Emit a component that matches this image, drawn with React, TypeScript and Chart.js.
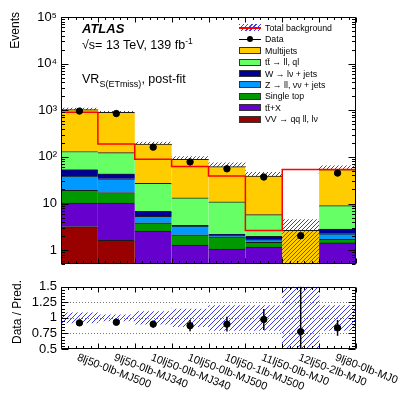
import React, { useEffect, useRef } from "react";
import { Chart, registerables } from "chart.js";

Chart.register(...registerables);

// ---------------- data ----------------
const categories = [
  "8lj50-0lb-MJ500",
  "9lj50-0lb-MJ340",
  "10lj50-0lb-MJ340",
  "10lj50-0lb-MJ500",
  "10lj50-1lb-MJ500",
  "11lj50-0lb-MJ0",
  "12lj50-2lb-MJ0",
  "9lj80-0lb-MJ0",
];

// stacked backgrounds, bottom -> top
const vvHadronic = [3.2, 1.63, null, null, null, null, null, null];
const ttbarX = [7.0, 8.6, 2.56, 1.28, 1.05, 1.16, null, 1.43];
const singleTop = [9.0, 7.0, 1.29, 0.86, 0.89, 0.32, null, 0.28];
const zJets = [19.6, 16.8, 1.45, 1.13, 0.14, 0.2, null, 0.54];
const wJets = [14.7, 9.4, 1.5, 0.13, 0.1, 0.3, null, 0.58];
const ttbarLep = [77, 80, 20.2, 9.9, 8.7, 3.8, null, 6.2];
const multijets = [905, 784, 161, 75.7, 51.1, 33, 2.65, 44.5];

const dataEvents = [960, 850, 162, 78, 55.5, 37, 2.04, 45];

const ratioValues = [0.92, 0.93, 0.9, 0.875, 0.9, 0.975, 0.78, 0.84];
const ratioErrors = [0.015, 0.02, 0.055, 0.09, 0.12, 0.17, 0.75, 0.125];
const uncertUp = [0.08, 0.05, 0.1, 0.14, 0.2, 0.2, 0.7, 0.2];
const uncertDown = [0.08, 0.05, 0.1, 0.14, 0.2, 0.2, 1.0, 0.2];

const mainTickValues = [1, 10, 100, 1000, 10000, 100000];
const mainTickLabels = ["1", "10", "10²", "10³", "10⁴", "10⁵"];
const ratioTickValues = [0.5, 0.75, 1, 1.25, 1.5];
const ratioTickLabels = ["0.5", "0.75", "1", "1.25", "1.5"];
const ratioGridValues = [0.75, 1, 1.25];

const seriesNames = [
  "VV → qq ll, lν",
  "tt̄+X",
  "Single top",
  "Z → ll, νν + jets",
  "W → lν + jets",
  "tt̄ → ll, ql",
  "Multijets",
];

// ---------------- styles ----------------
const seriesColors = ["#990000", "#6600cc", "#009900", "#0099ff", "#000099", "#66ff66", "#ffcc00"];
const FONT = '"Liberation Sans", Arial, Helvetica, sans-serif';
const HATCH = "#3a3aff";
const Y_MIN = 0.5;
const Y_MAX = 1e5;

// crisp 1px "/" hatch pattern
function makeHatch(line: string, size: number, bg?: string) {
  const c = document.createElement("canvas");
  c.width = size;
  c.height = size;
  const g = c.getContext("2d")!;
  if (bg) {
    g.fillStyle = bg;
    g.fillRect(0, 0, size, size);
  }
  g.fillStyle = line;
  for (let i = 0; i < size; i++) g.fillRect(i, size - 1 - i, 1, 1);
  return g.createPattern(c, "repeat")!;
}

function drawFrame(chart: any, yTicks: { v: number; major: boolean }[], nBins: number) {
  const { ctx, chartArea: a } = chart;
  const ys = chart.scales.y;
  const xe = chart.scales.xe;
  const L = Math.round(a.left) + 0.5;
  const R = Math.round(a.right) - 0.5;
  const T = Math.round(a.top) + 0.5;
  const B = Math.round(a.bottom) - 0.5;
  ctx.save();
  ctx.strokeStyle = "#000";
  ctx.lineWidth = 1;
  ctx.beginPath();
  ctx.rect(L, T, R - L, B - T);
  for (const t of yTicks) {
    const p = Math.round(ys.getPixelForValue(t.v)) + 0.5;
    const len = t.major ? 7 : 3.5;
    ctx.moveTo(L, p);
    ctx.lineTo(L + len, p);
    ctx.moveTo(R, p);
    ctx.lineTo(R - len, p);
  }
  for (let i = 0; i <= nBins * 5; i++) {
    const p = Math.round(xe.getPixelForValue(i / 5)) + 0.5;
    const len = i % 5 === 0 ? 5 : 2.5;
    ctx.moveTo(p, B);
    ctx.lineTo(p, B - len);
    ctx.moveTo(p, T);
    ctx.lineTo(p, T + len);
  }
  ctx.stroke();
  ctx.restore();
}

function logTicks(min: number, max: number) {
  const out: { v: number; major: boolean }[] = [];
  for (let e = Math.floor(Math.log10(min)); e <= Math.ceil(Math.log10(max)); e++) {
    for (let m = 1; m <= 9; m++) {
      const v = m * Math.pow(10, e);
      if (v >= min - 1e-12 && v <= max * (1 + 1e-9)) out.push({ v, major: m === 1 });
    }
  }
  return out;
}

function linTicks(min: number, max: number, minor: number, major: number) {
  const out: { v: number; major: boolean }[] = [];
  const n = Math.round((max - min) / minor);
  for (let i = 0; i <= n; i++) {
    const v = min + i * minor;
    const r = (v - min) / major;
    out.push({ v, major: Math.abs(r - Math.round(r)) < 1e-6 });
  }
  return out;
}

export default function App() {
  const mainRef = useRef<HTMLCanvasElement>(null);
  const ratioRef = useRef<HTMLCanvasElement>(null);

  useEffect(() => {
    const n = categories.length;
    const stackSeries = [vvHadronic, ttbarX, singleTop, zJets, wJets, ttbarLep, multijets];
    const totals = categories.map((_, i) =>
      stackSeries.reduce((s, arr) => s + ((arr[i] as number) ?? 0), 0)
    );
    const hatchMain = makeHatch(HATCH, 4);
    const hatchMJ = makeHatch("#5a5a7a", 4, seriesColors[6]);
    const hatchRatio = makeHatch(HATCH, 5);

    const mainTickMarks = logTicks(Y_MIN, Y_MAX);
    const ratioTickMarks = linTicks(0.5, 1.5, 0.05, 0.25);

    const hiddenCat = { type: "category", labels: categories, display: false, offset: true, grid: { display: false } };
    const hiddenLin = { type: "linear", display: false, min: 0, max: n, offset: false };
    const fullWidth = { barPercentage: 1, categoryPercentage: 1, grouped: false };

    const mainChart = new Chart(mainRef.current!, {
      type: "bar",
      data: {
        labels: categories,
        datasets: [
          ...stackSeries.map((arr, k) => ({
            type: "bar" as const,
            label: seriesNames[k],
            data: arr as any,
            backgroundColor:
              k === stackSeries.length - 1
                ? (c: any) => (uncertDown[c.dataIndex] >= 1 ? hatchMJ : seriesColors[k])
                : seriesColors[k],
            borderColor: "#1a1a1a",
            borderWidth: { top: 1, right: 0, bottom: 0, left: 0 },
            stack: "bg",
            order: 5,
            ...fullWidth,
            xAxisID: "x",
            yAxisID: "y",
          })),
          {
            type: "bar" as const,
            label: "Total background",
            data: totals.map((t, i) => [Math.max(t * (1 - uncertDown[i]), Y_MIN), t * (1 + uncertUp[i])]) as any,
            backgroundColor: hatchMain,
            borderWidth: 0,
            order: 10,
            ...fullWidth,
            xAxisID: "xb",
            yAxisID: "yb",
          },
          {
            type: "line" as const,
            label: "Total",
            data: [...totals.map((t, i) => ({ x: i, y: t })), { x: n, y: totals[n - 1] }] as any,
            stepped: "after",
            borderColor: "#ff0000",
            borderWidth: 1.5,
            pointRadius: 0,
            fill: false,
            order: 2,
            xAxisID: "xe",
            yAxisID: "yb",
          },
          {
            type: "line" as const,
            label: "Data",
            data: dataEvents as any,
            showLine: false,
            pointRadius: 3.2,
            pointBackgroundColor: "#000",
            pointBorderColor: "#000",
            order: 0,
            xAxisID: "xb",
            yAxisID: "yb",
          },
        ],
      },
      options: {
        animation: false,
        responsive: false,
        maintainAspectRatio: false,
        layout: { padding: { top: 17, right: 51, bottom: 9, left: 0 } },
        plugins: { legend: { display: false }, tooltip: { enabled: false } },
        scales: {
          x: hiddenCat,
          xb: hiddenCat,
          xe: hiddenLin,
          y: {
            type: "logarithmic",
            position: "left",
            min: Y_MIN,
            max: Y_MAX,
            stacked: true,
            afterFit: (s: any) => {
              s.width = 61;
            },
            afterBuildTicks: (s: any) => {
              s.ticks = mainTickValues.map((v) => ({ value: v }));
            },
            ticks: {
              callback: (_v: any, i: number) => mainTickLabels[i],
              font: { family: FONT, size: 13 },
              color: "#000",
              padding: 4,
              autoSkip: false,
            },
            grid: { display: false, drawTicks: false },
            border: { display: false },
          },
          yb: {
            type: "logarithmic",
            display: false,
            min: Y_MIN,
            max: Y_MAX,
            stacked: false,
          },
        },
      },
      plugins: [
        {
          id: "frameMain",
          afterDatasetsDraw(chart: any) {
            drawFrame(chart, mainTickMarks, n);
          },
        },
      ],
    } as any);

    const ratioChart = new Chart(ratioRef.current!, {
      type: "bar",
      data: {
        labels: categories,
        datasets: [
          {
            type: "bar" as const,
            label: "Uncertainty",
            data: categories.map((_, i) => [1 - uncertDown[i], 1 + uncertUp[i]]) as any,
            backgroundColor: hatchRatio,
            borderWidth: 0,
            ...fullWidth,
            order: 5,
            clip: 0,
            xAxisID: "x",
          },
          {
            type: "line" as const,
            label: "Data / Pred.",
            data: ratioValues as any,
            showLine: false,
            pointRadius: 3.2,
            pointBackgroundColor: "#000",
            pointBorderColor: "#000",
            order: 0,
            xAxisID: "x",
          },
        ],
      },
      options: {
        animation: false,
        responsive: false,
        maintainAspectRatio: false,
        layout: { padding: { top: 8, right: 51, bottom: 46, left: 0 } },
        plugins: { legend: { display: false }, tooltip: { enabled: false } },
        scales: {
          x: hiddenCat,
          xe: hiddenLin,
          y: {
            type: "linear",
            position: "left",
            min: 0.5,
            max: 1.5,
            afterFit: (s: any) => {
              s.width = 61;
            },
            afterBuildTicks: (s: any) => {
              s.ticks = ratioTickValues.map((v) => ({ value: v }));
            },
            ticks: {
              callback: (_v: any, i: number) => ratioTickLabels[i],
              font: { family: FONT, size: 13 },
              color: "#000",
              padding: 4,
              autoSkip: false,
            },
            grid: { display: false, drawTicks: false },
            border: { display: false },
          },
        },
      },
      plugins: [
        {
          id: "ratioGrid",
          beforeDatasetsDraw(chart: any) {
            const { ctx, chartArea: a } = chart;
            const ys = chart.scales.y;
            ctx.save();
            ctx.strokeStyle = "#777";
            ctx.lineWidth = 1;
            ctx.setLineDash([1, 2]);
            ctx.beginPath();
            for (const v of ratioGridValues) {
              const p = Math.round(ys.getPixelForValue(v)) + 0.5;
              ctx.moveTo(a.left, p);
              ctx.lineTo(a.right, p);
            }
            ctx.stroke();
            ctx.restore();
          },
          afterDatasetsDraw(chart: any) {
            const { ctx, chartArea: a } = chart;
            const xs = chart.scales.x;
            const ys = chart.scales.y;
            ctx.save();
            ctx.beginPath();
            ctx.rect(a.left, a.top, a.right - a.left, a.bottom - a.top);
            ctx.clip();
            ctx.strokeStyle = "#000";
            ctx.lineWidth = 1.5;
            ctx.beginPath();
            ratioValues.forEach((r, i) => {
              const x = xs.getPixelForValue(i);
              ctx.moveTo(x, ys.getPixelForValue(r - ratioErrors[i]));
              ctx.lineTo(x, ys.getPixelForValue(r + ratioErrors[i]));
            });
            ctx.stroke();
            ctx.restore();
            drawFrame(chart, ratioTickMarks, n);
          },
          afterDraw(chart: any) {
            const { ctx, chartArea: a } = chart;
            const xs = chart.scales.x;
            ctx.save();
            ctx.font = `11px ${FONT}`;
            ctx.fillStyle = "#000";
            ctx.textAlign = "left";
            ctx.textBaseline = "top";
            categories.forEach((c, i) => {
              ctx.save();
              ctx.translate(xs.getPixelForValue(i), a.bottom + 3);
              ctx.rotate((21 * Math.PI) / 180);
              ctx.fillText(c, 0, 0);
              ctx.restore();
            });
            ctx.restore();
          },
        },
      ],
    } as any);

    return () => {
      mainChart.destroy();
      ratioChart.destroy();
    };
  }, []);

  const legendRows = [
    { label: "Total background", kind: "band" },
    { label: "Data", kind: "data" },
    ...seriesNames.map((s, k) => ({ label: s, kind: "box", color: seriesColors[k] })).reverse(),
  ];

  const hatchCss = `repeating-linear-gradient(135deg, ${HATCH} 0px, ${HATCH} 1px, transparent 1px, transparent 3px)`;

  return (
    <div
      style={{
        position: "fixed",
        left: 0,
        top: 0,
        width: 407,
        height: 396,
        background: "#fff",
        fontFamily: FONT,
        color: "#000",
        overflow: "hidden",
      }}
    >
      <canvas
        ref={mainRef}
        width={407}
        height={276}
        style={{ position: "absolute", left: 0, top: 0, width: 407, height: 276, display: "block" }}
      />
      <canvas
        ref={ratioRef}
        width={407}
        height={120}
        style={{ position: "absolute", left: 0, top: 275, width: 407, height: 120, display: "block" }}
      />

      {/* axis titles */}
      <div
        style={{
          position: "absolute",
          left: 8,
          top: 112,
          width: 100,
          textAlign: "right",
          fontSize: 12,
          lineHeight: "14px",
          transform: "rotate(-90deg)",
          transformOrigin: "left top",
          whiteSpace: "nowrap",
        }}
      >
        Events
      </div>
      <div
        style={{
          position: "absolute",
          left: 10,
          top: 380,
          width: 100,
          textAlign: "right",
          fontSize: 12,
          lineHeight: "14px",
          transform: "rotate(-90deg)",
          transformOrigin: "left top",
          whiteSpace: "nowrap",
        }}
      >
        Data / Pred.
      </div>

      {/* ATLAS labels */}
      <div
        style={{
          position: "absolute",
          left: 82,
          top: 22,
          fontSize: 13,
          lineHeight: 1,
          fontWeight: "bold",
          fontStyle: "italic",
          whiteSpace: "nowrap",
        }}
      >
        ATLAS
      </div>
      <div style={{ position: "absolute", left: 82, top: 39, fontSize: 12.5, lineHeight: 1, whiteSpace: "nowrap" }}>
        √s= 13 TeV, 139 fb
        <span style={{ fontSize: 8.5, position: "relative", top: -5 }}>-1</span>
      </div>
      <div style={{ position: "absolute", left: 82, top: 73, fontSize: 12.5, lineHeight: 1, whiteSpace: "nowrap" }}>
        VR<span style={{ fontSize: 9, position: "relative", top: 4 }}>S(ETmiss)</span>, post-fit
      </div>

      {/* legend */}
      {legendRows.map((r: any, i) => (
        <div
          key={i}
          style={{
            position: "absolute",
            left: 239,
            top: 21.7 + i * 11.45,
            height: 12,
            display: "flex",
            alignItems: "center",
            whiteSpace: "nowrap",
          }}
        >
          <div style={{ position: "relative", width: 22, height: 7, marginRight: 4, flex: "none" }}>
            {r.kind === "band" && (
              <>
                <div style={{ position: "absolute", inset: 0, background: hatchCss }} />
                <div style={{ position: "absolute", left: 0, right: 0, top: 3, height: 1.5, background: "#ff0000" }} />
              </>
            )}
            {r.kind === "data" && (
              <>
                <div style={{ position: "absolute", left: 0, right: 0, top: 3, height: 1, background: "#000" }} />
                <div
                  style={{
                    position: "absolute",
                    left: 8,
                    top: 0.5,
                    width: 6,
                    height: 6,
                    borderRadius: 3,
                    background: "#000",
                  }}
                />
              </>
            )}
            {r.kind === "box" && (
              <div
                style={{
                  position: "absolute",
                  inset: 0,
                  background: r.color,
                  border: "1px solid #333",
                  boxSizing: "border-box",
                }}
              />
            )}
          </div>
          <span style={{ fontSize: 8.8, lineHeight: "12px" }}>{r.label}</span>
        </div>
      ))}
    </div>
  );
}
